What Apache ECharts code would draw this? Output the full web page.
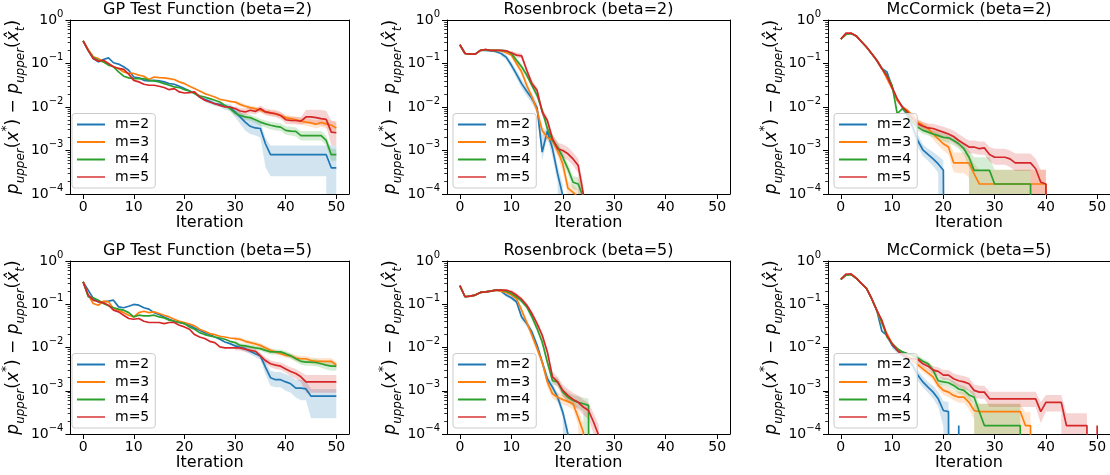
<!DOCTYPE html>
<html><head><meta charset="utf-8">
<script src="https://cdn.jsdelivr.net/npm/echarts@6/dist/echarts.min.js"></script>
<style>html,body{margin:0;padding:0;background:#fff}#c{width:1110px;height:475px}</style>
</head><body><div id="c"></div><script>
// ---------- data ----------
const seriesNames = ['m=2', 'm=3', 'm=4', 'm=5'];
const xTickValues = [0, 10, 20, 30, 40, 50];
const yTickValues = [1e-4, 1e-3, 1e-2, 1e-1, 1];
const panelTitles = ['GP Test Function (beta=2)', 'Rosenbrock (beta=2)', 'McCormick (beta=2)',
                     'GP Test Function (beta=5)', 'Rosenbrock (beta=5)', 'McCormick (beta=5)'];

// GP Test Function (beta=2)
const gp2_m2 = [0.33,0.2,0.13,0.109,0.124,0.135,0.104,0.097,0.084,0.07,0.049,0.0467,0.041,0.04,0.041,0.04,0.0378,0.0345,0.0333,0.03,0.0265,0.0234,0.021,0.017,0.015,0.0135,0.0119,0.0115,0.0104,0.01,0.0077,0.0059,0.0045,0.0036,0.0033,0.0032,0.00143,0.0008,0.0008,0.0008,0.0008,0.0008,0.0008,0.0008,0.0008,0.0008,0.0008,0.0008,0.0008,0.0004,0.0004];
const gp2_m3 = [0.33,0.21,0.143,0.13,0.109,0.097,0.084,0.077,0.064,0.059,0.059,0.054,0.051,0.0428,0.049,0.0475,0.0467,0.045,0.0428,0.0378,0.0345,0.03,0.0265,0.0234,0.0203,0.0186,0.017,0.015,0.0143,0.0135,0.013,0.0115,0.0104,0.0097,0.0092,0.0084,0.0077,0.0073,0.007,0.0064,0.0057,0.0054,0.0051,0.00475,0.0045,0.0043,0.004,0.0044,0.0041,0.0038,0.0033];
const gp2_m4 = [0.33,0.2,0.137,0.119,0.109,0.092,0.084,0.064,0.051,0.0467,0.045,0.045,0.045,0.041,0.04,0.0378,0.0345,0.0316,0.029,0.028,0.025,0.0234,0.0203,0.018,0.017,0.0156,0.0143,0.013,0.0109,0.0092,0.0073,0.0064,0.0059,0.0057,0.0051,0.0045,0.0041,0.0038,0.0036,0.00345,0.0029,0.0028,0.00274,0.0022,0.0022,0.0022,0.0022,0.0022,0.0017,0.0008,0.0008];
const gp2_m5 = [0.33,0.2,0.13,0.113,0.119,0.1,0.084,0.077,0.073,0.057,0.041,0.0378,0.0333,0.0316,0.0316,0.03,0.028,0.025,0.0265,0.0222,0.021,0.0214,0.0222,0.017,0.0143,0.013,0.0119,0.0109,0.01,0.01,0.0092,0.0081,0.0077,0.0084,0.0079,0.0092,0.0077,0.0073,0.007,0.0064,0.0051,0.0049,0.0049,0.00475,0.0059,0.0059,0.0057,0.0054,0.0052,0.00265,0.00256];
const gp2_m2_from = 24;
const gp2_m2_lo = [0.013,0.0119,0.0104,0.01,0.0087,0.0081,0.0059,0.0041,0.0029,0.0024,0.0022,0.002,0.00042,0.000256,0.000256,0.000256,0.000256,0.000256,0.000256,0.000256,0.000256,0.000256,0.000256,0.000256,0.000256,0,0];
const gp2_m2_hi = [0.017,0.015,0.0135,0.013,0.0119,0.0115,0.0097,0.0077,0.0064,0.0054,0.0049,0.0045,0.002,0.0013,0.0013,0.0013,0.0013,0.0013,0.0013,0.0013,0.0013,0.0013,0.0013,0.0013,0.0013,0.0013,0.0013];
const gp2_m3_from = 30;
const gp2_m3_lo = [0.0116,0.0103,0.0093,0.0087,0.0082,0.0075,0.0068,0.0064,0.0061,0.0055,0.0049,0.0046,0.0043,0.004,0.0037,0.0035,0.0032,0.0035,0.0032,0.003,0.0026];
const gp2_m3_hi = [0.0145,0.0128,0.0116,0.0108,0.0103,0.0094,0.0087,0.0083,0.008,0.0074,0.0066,0.0063,0.006,0.0056,0.0054,0.0052,0.0049,0.0054,0.0051,0.0048,0.0043];
const gp2_m4_from = 28;
const gp2_m4_lo = [0.0097,0.0081,0.0063,0.0055,0.005,0.0048,0.0043,0.0037,0.0034,0.0031,0.0029,0.0028,0.0023,0.0022,0.0021,0.0017,0.0017,0.0017,0.0017,0.0017,0.0013,0.00058,0.00058];
const gp2_m4_hi = [0.0122,0.0103,0.0083,0.0074,0.0069,0.0067,0.006,0.0054,0.0049,0.0046,0.0044,0.0042,0.0036,0.0035,0.0034,0.0028,0.0028,0.0028,0.0028,0.0028,0.0022,0.0011,0.0011];
const gp2_m5_from = 30;
const gp2_m5_lo = [0.008,0.007,0.0065,0.0071,0.0067,0.0078,0.0065,0.0061,0.0058,0.0053,0.0042,0.004,0.004,0.0039,0.0042,0.0041,0.004,0.0038,0.0036,0.0013,0.0013];
const gp2_m5_hi = [0.0105,0.0095,0.0092,0.01,0.0094,0.0108,0.0092,0.0088,0.0085,0.0078,0.0062,0.006,0.006,0.0059,0.0085,0.0087,0.0087,0.0085,0.0082,0.0049,0.0047];

// Rosenbrock (beta=2)
const ros2_m2 = [0.27,0.17,0.164,0.164,0.2,0.2,0.196,0.186,0.17,0.14,0.092,0.057,0.0345,0.023,0.0156,0.0097,0.00092,0.0028,0.0011,0.00029,0.000092,0,0,0,0,0,0,0,0,0,0,0,0,0,0,0,0,0,0,0,0,0,0,0,0,0,0,0,0,0,0];
const ros2_m3 = [0.27,0.17,0.164,0.164,0.2,0.21,0.2,0.2,0.196,0.176,0.156,0.1,0.064,0.0316,0.017,0.0084,0.0029,0.002,0.0017,0.001,0.00049,0.000137,0.000109,0.000084,0,0,0,0,0,0,0,0,0,0,0,0,0,0,0,0,0,0,0,0,0,0,0,0,0,0,0];
const ros2_m4 = [0.27,0.17,0.164,0.164,0.2,0.21,0.2,0.2,0.2,0.196,0.17,0.119,0.084,0.054,0.0316,0.0186,0.0084,0.0032,0.0017,0.0012,0.0007,0.00038,0.000186,0.00017,0.000084,0,0,0,0,0,0,0,0,0,0,0,0,0,0,0,0,0,0,0,0,0,0,0,0,0,0];
const ros2_m5 = [0.27,0.17,0.164,0.164,0.2,0.21,0.2,0.2,0.2,0.196,0.176,0.156,0.15,0.07,0.0345,0.0243,0.0077,0.0049,0.00186,0.0011,0.001,0.00084,0.00064,0.00045,0.0001,0,0,0,0,0,0,0,0,0,0,0,0,0,0,0,0,0,0,0,0,0,0,0,0,0,0];
const ros2_m2_from = 8;
const ros2_m2_lo = [0.15,0.12,0.077,0.046,0.027,0.018,0.012,0.0075,0.0006,0.002,0.0007,0.00018,0];
const ros2_m2_hi = [0.19,0.16,0.11,0.07,0.043,0.029,0.02,0.0125,0.0022,0.0037,0.0016,0.00045,0.00016];
const ros2_m3_from = 10;
const ros2_m3_lo = [0.14,0.087,0.054,0.026,0.014,0.0068,0.0023,0.0016,0.0013,0.00072,0.00032,0.00009,0.00007,0];
const ros2_m3_hi = [0.175,0.115,0.075,0.038,0.021,0.0105,0.0036,0.0025,0.0022,0.0014,0.00075,0.0002,0.00016,0.00012];
const ros2_m4_from = 10;
const ros2_m4_lo = [0.15,0.105,0.073,0.046,0.027,0.0157,0.007,0.0026,0.0013,0.0009,0.00054,0.00028,0.00013,0.00012,0];
const ros2_m4_hi = [0.19,0.135,0.097,0.063,0.037,0.022,0.01,0.0039,0.0022,0.0016,0.0009,0.0005,0.00026,0.00024,0.00012];
const ros2_m5_from = 10;
const ros2_m5_lo = [0.156,0.137,0.13,0.06,0.029,0.02,0.0062,0.004,0.0015,0.0008,0.0007,0.0006,0.00045,0.0003,0];
const ros2_m5_hi = [0.2,0.178,0.172,0.082,0.041,0.029,0.0095,0.006,0.0024,0.0015,0.0014,0.0012,0.0009,0.00065,0.00016];

// McCormick (beta=2)
const mc2_m2 = [0.365,0.47,0.49,0.43,0.32,0.24,0.17,0.119,0.077,0.064,0.029,0.0143,0.01,0.0064,0.0035,0.0017,0.00104,0.00081,0.00064,0.00049,0.00035,0,0,0,0,0,0,0,0,0,0,0,0,0,0,0,0,0,0,0,0,0,0,0,0,0,0,0,0,0,0];
const mc2_m3 = [0.365,0.47,0.49,0.43,0.32,0.24,0.17,0.119,0.077,0.045,0.0265,0.0143,0.01,0.0084,0.0064,0.0045,0.0038,0.0032,0.0024,0.00186,0.00143,0.0012,0.00052,0.00052,0.00052,0.00052,0.00029,0.00017,0.00017,0.00017,0.00017,0.00017,0.00017,0.00017,0.00017,0.00017,0.00017,0.00017,0.00017,0.00017,0.00017,0,0,0,0,0,0,0,0,0,0];
const mc2_m4 = [0.365,0.47,0.49,0.43,0.32,0.24,0.17,0.119,0.077,0.054,0.0316,0.007,0.0092,0.007,0.0045,0.00345,0.0029,0.00265,0.0024,0.0022,0.002,0.00196,0.0017,0.00143,0.0011,0.0007,0.00035,0.00035,0.00035,0.00035,0.00017,0.00017,0.00017,0.00017,0.00017,0.00017,0.00017,0.00017,0,0,0,0,0,0,0,0,0,0,0,0,0];
const mc2_m5 = [0.365,0.5,0.5,0.43,0.32,0.24,0.17,0.119,0.077,0.051,0.028,0.0156,0.01,0.0077,0.0054,0.0041,0.0036,0.0033,0.0032,0.0029,0.00265,0.0024,0.0021,0.0017,0.00143,0.0012,0.0012,0.0011,0.00115,0.00081,0.0007,0.0007,0.0007,0.00064,0.00052,0.00052,0.00052,0.00052,0.00038,0.000186,0.00017,0,0,0,0,0,0,0,0,0,0];
const mc2_m2_from = 12;
const mc2_m2_lo = [0.0083,0.0052,0.0027,0.0012,0.00075,0.00058,0.00044,0.00031,0];
const mc2_m2_hi = [0.012,0.0078,0.0045,0.0023,0.0014,0.0011,0.00092,0.00075,0.0006];
const mc2_m3_from = 14;
const mc2_m3_lo = [0.0055,0.0038,0.0031,0.0025,0.0018,0.0013,0.001,0.0008,0.00032,0.0003,0.0003,0.00024,0,0,0,0,0,0,0,0,0,0,0,0,0,0,0];
const mc2_m3_hi = [0.0075,0.0053,0.0046,0.004,0.0031,0.0025,0.002,0.0018,0.0009,0.0009,0.0009,0.00085,0.0005,0.00036,0.00036,0.00036,0.00036,0.00036,0.00036,0.00036,0.00036,0.00036,0.00036,0.00036,0.00036,0.00036,0.00036];
const mc2_m4_from = 13;
const mc2_m4_lo = [0.006,0.0038,0.0029,0.0024,0.0022,0.002,0.0018,0.0016,0.0015,0.0013,0.0011,0.0008,0.0004,0,0,0,0,0,0,0,0,0,0,0,0];
const mc2_m4_hi = [0.0082,0.0053,0.0041,0.0035,0.0032,0.0029,0.0027,0.0025,0.0024,0.0021,0.0018,0.0014,0.001,0.0007,0.0007,0.0007,0.0007,0.00036,0.00036,0.00036,0.00036,0.00036,0.00036,0.00036,0.00036];
const mc2_m5_from = 14;
const mc2_m5_lo = [0.0046,0.0034,0.0029,0.0026,0.0025,0.0022,0.002,0.0018,0.0015,0.0012,0.001,0.00085,0.00085,0.0008,0.0008,0.00056,0.00047,0.00047,0.00047,0.00042,0.00034,0.00034,0.00034,0.00034,0,0,0];
const mc2_m5_hi = [0.0064,0.005,0.0045,0.0042,0.0041,0.0038,0.0035,0.0032,0.0029,0.0024,0.002,0.0017,0.0017,0.0016,0.0016,0.0012,0.0011,0.0011,0.0011,0.001,0.00085,0.00085,0.00085,0.00085,0.00065,0.00036,0.00036];

// GP Test Function (beta=5)
const gp5_m2 = [0.33,0.212,0.136,0.114,0.114,0.118,0.124,0.087,0.083,0.09,0.099,0.095,0.083,0.077,0.064,0.058,0.051,0.045,0.0405,0.0378,0.0358,0.0327,0.0284,0.025,0.0221,0.0199,0.0175,0.0155,0.0134,0.0123,0.0109,0.0101,0.0094,0.0082,0.0072,0.0064,0.0035,0.002,0.0018,0.0018,0.0016,0.00145,0.00115,0.00115,0.0011,0.00075,0.00075,0.00075,0.00075,0.00075,0.00075];
const gp5_m3 = [0.33,0.163,0.104,0.095,0.118,0.114,0.08,0.073,0.064,0.0558,0.051,0.064,0.069,0.064,0.0667,0.061,0.0558,0.051,0.045,0.0405,0.0378,0.035,0.0316,0.0264,0.0238,0.021,0.0199,0.0182,0.0175,0.0166,0.0161,0.0155,0.0139,0.013,0.0121,0.0112,0.0098,0.0086,0.0079,0.0072,0.0066,0.0064,0.0057,0.0055,0.0055,0.005,0.0048,0.0048,0.0048,0.0048,0.0039];
const gp5_m4 = [0.33,0.149,0.141,0.124,0.104,0.092,0.083,0.077,0.073,0.064,0.051,0.0558,0.054,0.054,0.0558,0.051,0.0484,0.0428,0.0405,0.0378,0.0358,0.0299,0.0264,0.0221,0.0199,0.0185,0.0175,0.0166,0.0155,0.0139,0.013,0.0112,0.0109,0.0103,0.0098,0.0094,0.0086,0.0079,0.0079,0.0079,0.0072,0.0064,0.0055,0.0048,0.0046,0.0046,0.0045,0.0042,0.0039,0.0037,0.0037];
const gp5_m5 = [0.33,0.163,0.124,0.114,0.108,0.095,0.073,0.0667,0.0558,0.0468,0.045,0.0468,0.0405,0.0378,0.0378,0.0378,0.0358,0.0378,0.0378,0.0327,0.0299,0.0264,0.0199,0.0175,0.0161,0.0139,0.013,0.0103,0.0098,0.0098,0.0098,0.0098,0.0091,0.0086,0.0082,0.0064,0.005,0.0042,0.0039,0.0037,0.0032,0.0028,0.0025,0.0021,0.0016,0.0016,0.0016,0.0016,0.0016,0.0016,0.0016];
const gp5_m2_from = 30;
const gp5_m2_lo = [0.0097,0.0089,0.0082,0.007,0.006,0.0052,0.0024,0.0013,0.0012,0.0012,0.001,0.0009,0.0007,0.0006,0.0006,0.00023,0.00023,0.00023,0.00023,0.00023,0.00023];
const gp5_m2_hi = [0.0122,0.0114,0.0107,0.0094,0.0084,0.0075,0.0048,0.0029,0.0027,0.0027,0.0024,0.0022,0.0018,0.0018,0.0017,0.0011,0.0011,0.0011,0.0011,0.0011,0.0011];
const gp5_m3_from = 30;
const gp5_m3_lo = [0.0145,0.014,0.0125,0.0116,0.0108,0.01,0.0087,0.0076,0.007,0.0064,0.0058,0.0056,0.0049,0.0047,0.0047,0.0042,0.004,0.004,0.004,0.004,0.0032];
const gp5_m3_hi = [0.0178,0.0172,0.0155,0.0145,0.0135,0.0125,0.011,0.0097,0.0089,0.0081,0.0075,0.0073,0.0066,0.0064,0.0064,0.0059,0.0057,0.0057,0.0057,0.0057,0.0047];
const gp5_m4_from = 30;
const gp5_m4_lo = [0.0116,0.01,0.0097,0.0092,0.0087,0.0083,0.0076,0.0069,0.0069,0.0069,0.0062,0.0055,0.0047,0.004,0.0038,0.0038,0.0037,0.0034,0.0031,0.0029,0.0029];
const gp5_m4_hi = [0.0145,0.0125,0.0122,0.0115,0.011,0.0106,0.0097,0.009,0.009,0.009,0.0083,0.0074,0.0064,0.0057,0.0055,0.0055,0.0054,0.0051,0.0048,0.0046,0.0046];
const gp5_m5_from = 30;
const gp5_m5_lo = [0.0085,0.0085,0.0079,0.0075,0.0071,0.0055,0.0042,0.0035,0.0032,0.003,0.0026,0.0022,0.0019,0.0016,0.0009,0.0009,0.0009,0.0009,0.0009,0.0009,0.0009];
const gp5_m5_hi = [0.0112,0.0112,0.0104,0.0099,0.0095,0.0075,0.006,0.0051,0.0047,0.0045,0.004,0.0035,0.0032,0.0027,0.0023,0.0023,0.0023,0.0023,0.0023,0.0023,0.0023];

// Rosenbrock (beta=5)
const ros5_m2 = [0.268,0.149,0.154,0.163,0.1875,0.194,0.201,0.212,0.201,0.163,0.141,0.114,0.051,0.0358,0.0229,0.0112,0.0046,0.0019,0.00121,0.00071,0.00032,0.0001,0,0,0,0,0,0,0,0,0,0,0,0,0,0,0,0,0,0,0,0,0,0,0,0,0,0,0,0,0];
const ros5_m3 = [0.268,0.149,0.154,0.163,0.1875,0.194,0.201,0.212,0.201,0.1875,0.163,0.136,0.073,0.0378,0.0192,0.0094,0.0046,0.0016,0.00085,0.00071,0.00063,0.00056,0.0005,0.00024,0.00011,0,0,0,0,0,0,0,0,0,0,0,0,0,0,0,0,0,0,0,0,0,0,0,0,0,0];
const ros5_m4 = [0.268,0.149,0.154,0.163,0.1875,0.194,0.201,0.212,0.212,0.201,0.178,0.149,0.118,0.087,0.051,0.0274,0.0134,0.0046,0.0017,0.0016,0.00093,0.00071,0.0006,0.00054,0.0005,0.00046,0,0,0,0,0,0,0,0,0,0,0,0,0,0,0,0,0,0,0,0,0,0,0,0,0];
const ros5_m5 = [0.268,0.149,0.154,0.163,0.1875,0.194,0.201,0.212,0.212,0.212,0.194,0.163,0.131,0.095,0.061,0.0358,0.0192,0.0079,0.0021,0.0016,0.00102,0.00078,0.00063,0.00054,0.00042,0.00035,0.000187,0.000092,0,0,0,0,0,0,0,0,0,0,0,0,0,0,0,0,0,0,0,0,0,0,0];
const ros5_m2_from = 8;
const ros5_m2_lo = [0.184,0.148,0.127,0.1,0.043,0.03,0.019,0.0093,0.0038,0.0015,0.00097,0.00055,0.00024,0];
const ros5_m2_hi = [0.22,0.18,0.157,0.128,0.06,0.042,0.027,0.0135,0.0056,0.0024,0.0015,0.0009,0.00042,0.00014];
const ros5_m3_from = 10;
const ros5_m3_lo = [0.147,0.12,0.063,0.032,0.016,0.0078,0.0037,0.0012,0.00066,0.00056,0.00048,0.00043,0.00037,0.00016,0];
const ros5_m3_hi = [0.18,0.152,0.083,0.044,0.023,0.0113,0.0056,0.0021,0.0011,0.0009,0.00082,0.00073,0.00068,0.00036,0.00018];
const ros5_m4_from = 10;
const ros5_m4_lo = [0.162,0.135,0.106,0.077,0.044,0.023,0.011,0.0037,0.0014,0.0013,0.00074,0.00055,0.00045,0.0004,0.00033,0];
const ros5_m4_hi = [0.196,0.165,0.131,0.097,0.058,0.032,0.016,0.0056,0.0021,0.002,0.0012,0.00092,0.0008,0.00075,0.0007,0.00065];
const ros5_m5_from = 10;
const ros5_m5_lo = [0.175,0.146,0.116,0.083,0.052,0.03,0.016,0.0065,0.0016,0.0012,0.00075,0.00055,0.00044,0.00037,0.00028,0.00022,0.0001,0];
const ros5_m5_hi = [0.215,0.182,0.147,0.108,0.07,0.042,0.023,0.0095,0.0027,0.0021,0.0014,0.0011,0.0009,0.00078,0.00062,0.00052,0.0003,0.00016];

// McCormick (beta=5)
const mc5_m2 = [0.376,0.47,0.49,0.4,0.303,0.232,0.136,0.073,0.024,0.019,0.0112,0.0086,0.0072,0.0055,0.0039,0.0023,0.0016,0.00121,0.00093,0.00065,0.00035,0.00033,0,0.000157,0,0,0,0,0,0,0,0,0,0,0,0,0,0,0,0,0,0,0,0,0,0,0,0,0,0,0];
const mc5_m3 = [0.376,0.47,0.49,0.4,0.303,0.232,0.136,0.073,0.0358,0.021,0.0123,0.0094,0.0079,0.0064,0.005,0.004,0.0032,0.0026,0.0021,0.00133,0.00102,0.00093,0.00078,0.00071,0.00071,0.00054,0.00035,0.00033,0.00033,0.00033,0.00033,0.00033,0.00033,0.00033,0.00033,0.00033,0.000157,0.000157,0,0,0,0,0,0,0,0,0,0,0,0,0];
const mc5_m4 = [0.376,0.47,0.49,0.4,0.303,0.232,0.136,0.073,0.039,0.0175,0.0123,0.0094,0.0079,0.0072,0.0066,0.0057,0.0048,0.0042,0.003,0.0017,0.0016,0.00153,0.00133,0.0011,0.00102,0.0008,0.00071,0.00033,0.000157,0.000157,0.000157,0.000157,0.000157,0.000157,0.000157,0.000157,0,0,0,0,0,0,0,0,0,0,0,0,0,0,0];
const mc5_m5 = [0.376,0.5,0.5,0.4,0.303,0.232,0.136,0.073,0.043,0.019,0.0123,0.0086,0.0066,0.0057,0.0055,0.0053,0.0042,0.0037,0.003,0.0028,0.0023,0.0023,0.0019,0.0017,0.0016,0.00145,0.00102,0.00093,0.00093,0.00065,0.00065,0.00065,0.00065,0.00065,0.00065,0.00065,0.00065,0.00065,0.00065,0.00033,0.00054,0.00054,0.00054,0.00054,0.000157,0.000157,0.000157,0.000157,0.000157,0,0.000157];
const mc5_m2_from = 10;
const mc5_m2_lo = [0.0096,0.0074,0.0061,0.0046,0.0031,0.0017,0.0012,0.0009,0.00066,0.00042,0.00015,0];
const mc5_m2_hi = [0.013,0.01,0.0084,0.0065,0.0048,0.003,0.0021,0.0016,0.0013,0.00095,0.00058,0.00055];
const mc5_m3_from = 14;
const mc5_m3_lo = [0.0043,0.0034,0.0027,0.0022,0.0017,0.00105,0.0008,0.00072,0.0006,0.00053,0.00053,0.00038,0.00022,0,0,0,0,0,0,0,0,0,0,0];
const mc5_m3_hi = [0.0058,0.0047,0.0038,0.0031,0.0026,0.0017,0.0013,0.0012,0.001,0.00095,0.00095,0.00075,0.0005,0.0005,0.0005,0.0005,0.0005,0.0005,0.0005,0.0005,0.0005,0.0005,0.00032,0.00032];
const mc5_m4_from = 14;
const mc5_m4_lo = [0.0057,0.0049,0.0041,0.0036,0.0025,0.0014,0.0013,0.00122,0.00105,0.00086,0.0008,0.0006,0.0005,0,0,0,0,0,0,0,0,0];
const mc5_m4_hi = [0.0076,0.0066,0.0056,0.0049,0.0036,0.0021,0.002,0.0019,0.0017,0.0014,0.0013,0.00105,0.00095,0.0005,0.0005,0.0005,0.0005,0.0005,0.0005,0.0005,0.0005,0.0005];
const mc5_m5_from = 14;
const mc5_m5_lo = [0.0047,0.0045,0.0035,0.003,0.0024,0.0022,0.0018,0.0018,0.0014,0.0012,0.0011,0.001,0.0007,0.00065,0.00065,0.00042,0.00042,0.00042,0.00042,0.00042,0.00042,0.00042,0.00042,0.00042,0.00042,0.00018,0.00033,0.00033,0.00033,0.00033,0,0,0,0,0];
const mc5_m5_hi = [0.0064,0.0062,0.005,0.0045,0.0037,0.0035,0.003,0.003,0.0025,0.0023,0.0022,0.002,0.0014,0.0013,0.0013,0.00095,0.00095,0.00095,0.00095,0.00095,0.00095,0.00095,0.00095,0.00095,0.00095,0.00055,0.0008,0.0008,0.0008,0.0008,0.0003,0.0003,0.0003,0.0003,0.0003];

// ---------- layout / style ----------
const COLORS = ['#1f77b4', '#ff7f0e', '#2ca02c', '#d62728'];
const FONT = "'DejaVu Sans', sans-serif";
const LOG_FLOOR = 1e-30; // zero cannot be shown on a log axis; it is clipped off below the frame
const gridLefts = [66, 447, 828];
const gridWidths = [283, 283, 282];
const gridTops = [20, 261];
const gridHeights = [174, 173];

const panels = [
  { lines: [gp2_m2, gp2_m3, gp2_m4, gp2_m5], bands: [[gp2_m2_from, gp2_m2_lo, gp2_m2_hi], [gp2_m3_from, gp2_m3_lo, gp2_m3_hi], [gp2_m4_from, gp2_m4_lo, gp2_m4_hi], [gp2_m5_from, gp2_m5_lo, gp2_m5_hi]] },
  { lines: [ros2_m2, ros2_m3, ros2_m4, ros2_m5], bands: [[ros2_m2_from, ros2_m2_lo, ros2_m2_hi], [ros2_m3_from, ros2_m3_lo, ros2_m3_hi], [ros2_m4_from, ros2_m4_lo, ros2_m4_hi], [ros2_m5_from, ros2_m5_lo, ros2_m5_hi]] },
  { lines: [mc2_m2, mc2_m3, mc2_m4, mc2_m5], bands: [[mc2_m2_from, mc2_m2_lo, mc2_m2_hi], [mc2_m3_from, mc2_m3_lo, mc2_m3_hi], [mc2_m4_from, mc2_m4_lo, mc2_m4_hi], [mc2_m5_from, mc2_m5_lo, mc2_m5_hi]] },
  { lines: [gp5_m2, gp5_m3, gp5_m4, gp5_m5], bands: [[gp5_m2_from, gp5_m2_lo, gp5_m2_hi], [gp5_m3_from, gp5_m3_lo, gp5_m3_hi], [gp5_m4_from, gp5_m4_lo, gp5_m4_hi], [gp5_m5_from, gp5_m5_lo, gp5_m5_hi]] },
  { lines: [ros5_m2, ros5_m3, ros5_m4, ros5_m5], bands: [[ros5_m2_from, ros5_m2_lo, ros5_m2_hi], [ros5_m3_from, ros5_m3_lo, ros5_m3_hi], [ros5_m4_from, ros5_m4_lo, ros5_m4_hi], [ros5_m5_from, ros5_m5_lo, ros5_m5_hi]] },
  { lines: [mc5_m2, mc5_m3, mc5_m4, mc5_m5], bands: [[mc5_m2_from, mc5_m2_lo, mc5_m2_hi], [mc5_m3_from, mc5_m3_lo, mc5_m3_hi], [mc5_m4_from, mc5_m4_lo, mc5_m4_hi], [mc5_m5_from, mc5_m5_lo, mc5_m5_hi]] }
];

const minorTicks = [];
for (let e = -4; e < 0; e++) for (let m = 2; m <= 9; m++) minorTicks.push(m * Math.pow(10, e));

const fl = v => (v === 0 ? LOG_FLOOR : v);

const yName = '{i|p}{s|upper}{n|(}{i|x}{u|*}{n|) − }{i|p}{s|upper}{n|(}{i|x̂}{s|t}{n|)}';
const yNameRich = {
  i: { fontFamily: FONT, fontStyle: 'italic', fontSize: 17, lineHeight: 26, verticalAlign: 'middle', color: '#000' },
  n: { fontFamily: FONT, fontSize: 17, lineHeight: 26, verticalAlign: 'middle', color: '#000' },
  s: { fontFamily: FONT, fontStyle: 'italic', fontSize: 12, lineHeight: 14, verticalAlign: 'bottom', color: '#000' },
  u: { fontFamily: FONT, fontSize: 12, lineHeight: 14, verticalAlign: 'top', color: '#000' }
};
const spine = { show: true, onZero: false, lineStyle: { color: '#000', width: 1 } };

const option = { animation: false, backgroundColor: '#fff', title: [], grid: [], xAxis: [], yAxis: [], legend: [], series: [] };

panels.forEach((p, idx) => {
  const r = Math.floor(idx / 3), c = idx % 3;
  const left = gridLefts[c], top = gridTops[r], width = gridWidths[c], height = gridHeights[r];
  option.grid.push({ left, top, width, height, show: false });
  option.title.push({
    text: panelTitles[idx], left: left + width / 2, top: top - 18, textAlign: 'center', padding: 0,
    textStyle: { fontFamily: FONT, fontSize: 16, fontWeight: 'normal', color: '#000' }
  });
  // bottom x axis
  option.xAxis.push({
    type: 'value', gridIndex: idx, min: -2.5, max: 52.5, position: 'bottom',
    axisLine: spine,
    axisTick: { show: true, length: 5, customValues: xTickValues, lineStyle: { color: '#000', width: 1 } },
    axisLabel: { customValues: xTickValues, margin: 6, fontFamily: FONT, fontSize: 14, color: '#000' },
    splitLine: { show: false },
    name: 'Iteration', nameLocation: 'middle', nameGap: 20,
    nameTextStyle: { fontFamily: FONT, fontSize: 16, color: '#000' }
  });
  // top spine
  option.xAxis.push({
    type: 'value', gridIndex: idx, min: -2.5, max: 52.5, position: 'top',
    axisLine: spine, axisTick: { show: false }, axisLabel: { show: false }, splitLine: { show: false }
  });
  // left y axis (major ticks + labels)
  option.yAxis.push({
    type: 'log', logBase: 10, gridIndex: idx, min: 1e-4, max: 1, position: 'left',
    axisLine: spine,
    axisTick: { show: true, length: 5, customValues: yTickValues, lineStyle: { color: '#000', width: 1 } },
    axisLabel: {
      customValues: yTickValues, margin: 7,
      formatter: v => { const e = Math.round(Math.log10(v)); return '{b|10}{e|' + (e < 0 ? '−' + (-e) : e) + '}'; },
      rich: {
        b: { fontFamily: FONT, fontSize: 14, lineHeight: 22, verticalAlign: 'middle', color: '#000' },
        e: { fontFamily: FONT, fontSize: 10, lineHeight: 11, verticalAlign: 'top', color: '#000' }
      }
    },
    splitLine: { show: false },
    name: yName, nameLocation: 'middle', nameRotate: 90, nameGap: 34,
    nameTextStyle: { rich: yNameRich }
  });
  // left y axis minor ticks
  option.yAxis.push({
    type: 'log', logBase: 10, gridIndex: idx, min: 1e-4, max: 1, position: 'left',
    axisLine: { show: false, onZero: false },
    axisTick: { show: true, length: 2.8, customValues: minorTicks, lineStyle: { color: '#000', width: 0.8 } },
    axisLabel: { show: false }, splitLine: { show: false }
  });
  // right spine
  option.yAxis.push({
    type: 'log', logBase: 10, gridIndex: idx, min: 1e-4, max: 1, position: 'right',
    axisLine: spine, axisTick: { show: false }, axisLabel: { show: false }, splitLine: { show: false }
  });
  option.legend.push({
    orient: 'vertical', left: left + 6, bottom: 475 - (top + height) + 6,
    data: seriesNames.map((n, k) => ({ name: n, itemStyle: { color: COLORS[k], opacity: k === 3 ? 0.7 : 1 } })),
    icon: 'rect', itemWidth: 28, itemHeight: 2, itemGap: 3.5, padding: [4, 6, 4, 5],
    textStyle: { fontFamily: FONT, fontSize: 14, lineHeight: 14, color: '#000', padding: [0, 0, 0, 5] },
    borderColor: '#cccccc', borderWidth: 1, borderRadius: 3, backgroundColor: 'rgba(255,255,255,0.8)',
    selectedMode: false, z: 10
  });
  p.lines.forEach((arr, k) => {
    option.series.push({
      type: 'line', name: seriesNames[k], xAxisIndex: 2 * idx, yAxisIndex: 3 * idx,
      data: arr.map((v, i) => [i, fl(v)]), symbol: 'none', showSymbol: false, clip: true,
      lineStyle: { color: COLORS[k], width: 1.7 }, itemStyle: { color: COLORS[k] }, z: 2
    });
    const [from, lo, hi] = p.bands[k];
    const bandData = lo.map((l, i) => [from + i, fl(l), fl(hi[i])]);
    option.series.push({
      type: 'custom', name: 'band' + k, xAxisIndex: 2 * idx, yAxisIndex: 3 * idx, clip: true, z: 2,
      data: bandData, encode: { x: 0, y: [1, 2] }, silent: true,
      renderItem: (params, api) => {
        if (params.dataIndex !== 0) return null;
        const pts = [];
        bandData.forEach(d => pts.push(api.coord([d[0], d[2]])));
        for (let i = bandData.length - 1; i >= 0; i--) pts.push(api.coord([bandData[i][0], bandData[i][1]]));
        const cs = params.coordSys;
        return {
          type: 'polygon', shape: { points: pts }, style: { fill: COLORS[k], opacity: 0.2 },
          clipPath: { type: 'rect', shape: { x: cs.x, y: cs.y, width: cs.width, height: cs.height } }
        };
      }
    });
  });
});

const chart = echarts.init(document.getElementById('c'), null, { renderer: 'canvas' });
chart.setOption(option);
</script></body></html>
